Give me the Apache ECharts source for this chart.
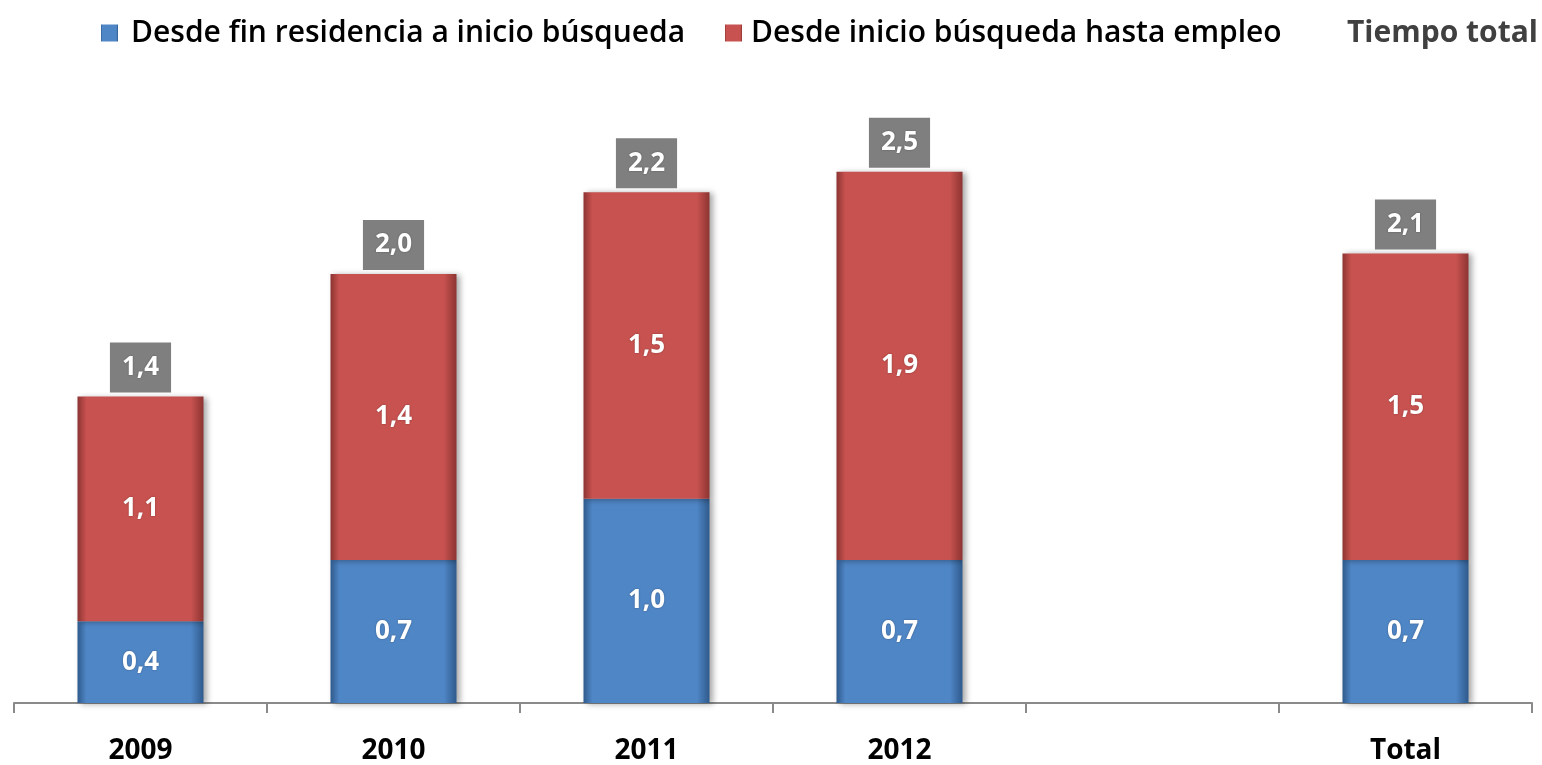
<!DOCTYPE html>
<html>
<head>
<meta charset="utf-8">
<script src="https://cdn.jsdelivr.net/npm/echarts@6/dist/echarts.min.js"></script>
<style>
  html, body { margin: 0; padding: 0; background: #fff; }
  #chart { width: 1542px; height: 765px; }
</style>
</head>
<body>
<div id="chart"></div>
<script>
// categories (the 5th slot is an empty gap before "Total")
var categories = ['2009', '2010', '2011', '2012', '', 'Total']
var finResidencia = [0.4, 0.7, 1.0, 0.7, null, 0.7]
var inicioEmpleo = [1.1, 1.4, 1.5, 1.9, null, 1.5]
var tiempoTotal = [1.4, 2.0, 2.2, 2.5, null, 2.1]

var font = 'Open Sans'

function fmt (v) {
  return v == null ? '' : v.toFixed(1).replace('.', ',')
}

function bevel (base, edge) {
  return {
    type: 'linear', x: 0, y: 0, x2: 1, y2: 0,
    colorStops: [
      { offset: 0, color: edge },
      { offset: 0.07, color: base },
      { offset: 0.9, color: base },
      { offset: 1, color: edge }
    ]
  }
}

var innerLabel = {
  show: true,
  position: 'inside',
  color: '#fff',
  fontFamily: font,
  fontWeight: 'bold',
  fontSize: 26,
  textShadowColor: 'rgba(0,0,0,0.35)',
  textShadowBlur: 2,
  formatter: function (p) { return fmt(p.value) }
}

var legendText = { fontFamily: font, fontSize: 30, fontWeight: 600, color: '#000' }

var chart = echarts.init(document.getElementById('chart'))
var option = {
  backgroundColor: '#fff',
  animation: false,
  legend: [
    {
      left: 96, top: 13, itemWidth: 17, itemHeight: 17, icon: 'rect',
      data: ['Desde fin residencia a inicio búsqueda'],
      textStyle: Object.assign({ padding: [0, 0, 0, 8] }, legendText)
    },
    {
      left: 720, top: 13, itemWidth: 17, itemHeight: 17, icon: 'rect',
      data: ['Desde inicio búsqueda hasta empleo'],
      textStyle: Object.assign({ padding: [0, 0, 0, 4] }, legendText)
    },
    {
      left: 1320, top: 13, itemWidth: 17, itemHeight: 17,
      data: [{ name: 'Tiempo total', icon: 'none' }],
      textStyle: { fontFamily: font, fontSize: 30, fontWeight: 'bold', color: '#404040' }
    }
  ],
  grid: { left: 14, right: 10, top: 90, bottom: 60 },
  xAxis: {
    type: 'category',
    data: categories,
    axisLine: { lineStyle: { color: '#8a8a8a', width: 2 } },
    axisTick: { show: true, length: 10, lineStyle: { color: '#8a8a8a', width: 2 } },
    axisLabel: {
      margin: 34,
      color: '#000',
      fontFamily: font,
      fontWeight: 'bold',
      fontSize: 28
    }
  },
  yAxis: {
    type: 'value',
    min: 0,
    max: 3,
    show: false
  },
  series: [
    {
      name: 'Desde fin residencia a inicio búsqueda',
      type: 'bar',
      stack: 'tiempo',
      barWidth: 126,
      data: finResidencia,
      itemStyle: {
        color: bevel('#4f86c6', '#2f5a8c'),
        shadowColor: 'rgba(0,0,0,0.35)',
        shadowBlur: 6,
        shadowOffsetX: 3,
        shadowOffsetY: 1
      },
      label: innerLabel
    },
    {
      name: 'Desde inicio búsqueda hasta empleo',
      type: 'bar',
      stack: 'tiempo',
      barWidth: 126,
      data: inicioEmpleo,
      itemStyle: {
        color: bevel('#c8524f', '#8c3432'),
        shadowColor: 'rgba(0,0,0,0.35)',
        shadowBlur: 6,
        shadowOffsetX: 3,
        shadowOffsetY: 1
      },
      label: innerLabel
    },
    {
      name: 'Tiempo total',
      type: 'bar',
      stack: 'tiempo',
      barWidth: 126,
      data: tiempoTotal.map(function (v) { return v == null ? null : 0 }),
      itemStyle: { color: 'transparent' },
      label: {
        show: true,
        position: 'top',
        distance: 4,
        backgroundColor: '#7f7f7f',
        padding: [8, 12, 8, 12],
        lineHeight: 34,
        color: '#fff',
        fontFamily: font,
        fontWeight: 'bold',
        fontSize: 26,
        textShadowColor: 'rgba(0,0,0,0.35)',
        textShadowBlur: 2,
        formatter: function (p) { return fmt(tiempoTotal[p.dataIndex]) }
      }
    }
  ]
}
chart.setOption(option)
</script>
</body>
</html>
